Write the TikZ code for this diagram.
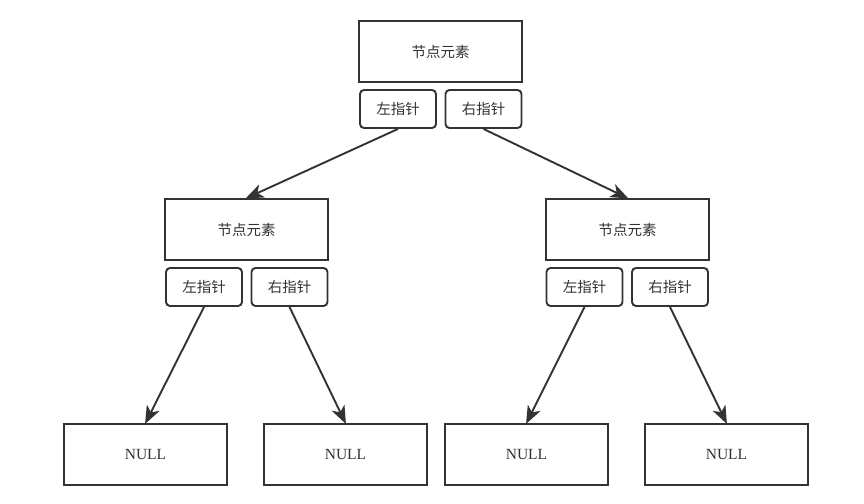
\documentclass[tikz,border=0pt]{standalone}
\usepackage{fontspec}
\setmainfont{Liberation Serif}
\newfontfamily\cjk{Noto Sans CJK SC}
\usetikzlibrary{arrows.meta}
\definecolor{ink}{HTML}{333333}
\tikzset{
  elem/.style={draw=ink, line width=1.9pt, minimum width=163pt, minimum height=61pt, inner sep=0pt, font=\cjk\fontsize{14.5}{16}\selectfont, text=ink},
  ptr/.style={draw=ink, line width=1.9pt, rounded corners=4pt, minimum width=76pt, minimum height=38pt, inner sep=0pt, font=\cjk\fontsize{14.5}{16}\selectfont, text=ink},
  nullbox/.style={draw=ink, line width=1.9pt, minimum width=163pt, minimum height=61pt, inner sep=0pt, font=\fontsize{15.5}{17}\selectfont, text=ink},
  link/.style={draw=ink, line width=1.9pt, -{Stealth[length=18pt,width=14pt,inset=5pt]}, shorten >=-1pt}
}
\begin{document}
\begin{tikzpicture}[x=1pt,y=-1pt]
\useasboundingbox (0,0) rectangle (864,503);
\node[elem] (top) at (440.5,51.5) {节点元素};
\node[ptr] (topL) at (398,109) {左指针};
\node[ptr] (topR) at (483.5,109) {右指针};
\node[elem] (midL) at (246.5,229.5) {节点元素};
\node[ptr] (midLL) at (204,287) {左指针};
\node[ptr] (midLR) at (289.5,287) {右指针};
\node[elem] (midR) at (627.5,229.5) {节点元素};
\node[ptr] (midRL) at (584.5,287) {左指针};
\node[ptr] (midRR) at (670,287) {右指针};
\node[nullbox] (n1) at (145.5,454.5) {NULL};
\node[nullbox] (n2) at (345.5,454.5) {NULL};
\node[nullbox] (n3) at (526.5,454.5) {NULL};
\node[nullbox] (n4) at (726.5,454.5) {NULL};
\draw[link] (topL.south) -- (midL.north);
\draw[link] (topR.south) -- (midR.north);
\draw[link] (midLL.south) -- (n1.north);
\draw[link] (midLR.south) -- (n2.north);
\draw[link] (midRL.south) -- (n3.north);
\draw[link] (midRR.south) -- (n4.north);
\end{tikzpicture}
\end{document}
